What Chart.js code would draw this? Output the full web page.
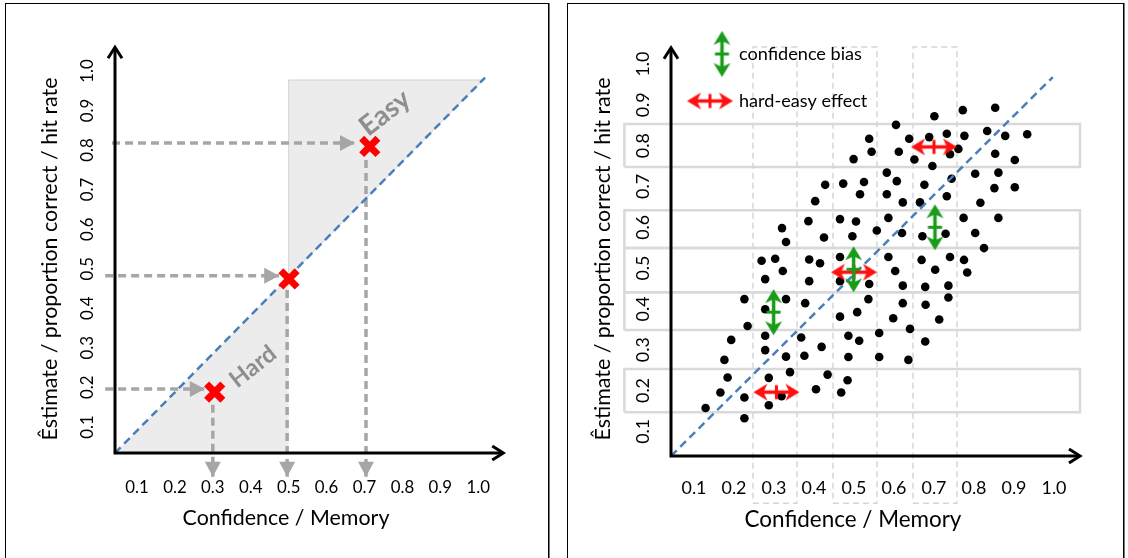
<!DOCTYPE html>
<html>
<head>
<meta charset="utf-8">
<script src="https://cdn.jsdelivr.net/npm/chart.js@4.4.1/dist/chart.umd.min.js"></script>
<style>
  html, body { margin: 0; padding: 0; background: #fff; }
  body { width: 1128px; height: 558px; position: relative; overflow: hidden; }
  .panel { position: absolute; top: 3px; height: 570px; border: 1px solid #000; box-shadow: 1px 0 0 #777; box-sizing: border-box; }
  #p1 { left: 5px; width: 544px; }
  #p2 { left: 567px; width: 557px; }
  canvas { position: absolute; top: 0; }
  #c1 { left: 0; width: 556px; height: 558px; }
  #c2 { left: 560px; width: 568px; height: 558px; }
</style>
</head>
<body>
<div class="panel" id="p1"></div>
<div class="panel" id="p2"></div>
<canvas id="c1" width="556" height="558"></canvas>
<canvas id="c2" width="568" height="558"></canvas>
<script>
const FONT = "Lato, 'Open Sans', 'DejaVu Sans', sans-serif";
const tickValues = [0.1, 0.2, 0.3, 0.4, 0.5, 0.6, 0.7, 0.8, 0.9, 1.0];
const xTitle = 'Confidence / Memory';
const yTitle = 'Êstimate / proportion correct / hit rate';

// ---- left panel (calibration sketch) ----
const leftXRange = [0.042, 0.944];
const leftYRange = [0.034, 1.015];
const leftAxisTips = [1.066, 1.06];
const leftDiagX = [0.042, 1.018];
const leftDiagY = [0.034, 0.983];
const hardAreaX = [0.042, 0.5, 0.5, 0.042];
const hardAreaY = [0.034, 0.48, 0.034, 0.034];
const easyAreaX = [0.5, 0.5, 1.012, 0.5];
const easyAreaY = [0.48, 0.977, 0.977, 0.48];
const exampleConf = [0.305, 0.501, 0.714];
const exampleEst = [0.188, 0.474, 0.809];
// dashed guide arrows
const hGuideY = [0.196, 0.482, 0.818];
const hGuideFrom = [0.016, 0.016, 0.034];
const hGuideTo = [0.279, 0.475, 0.675];
const vGuideX = [0.300, 0.496, 0.704];
const vGuideFrom = [0.156, 0.446, 0.775];
const vGuideTo = -0.026;
const areaLabels = ['Hard', 'Easy'];
const areaLabelX = [0.406, 0.754];
const areaLabelY = [0.252, 0.894];

// ---- right panel (scatter) ----
const rightXRange = [0.0425, 0.9525];
const rightYRange = [0.0395, 1.005];
const rightAxisTips = [1.065, 1.04];
const rightDiagX = [0.0425, 0.997];
const rightDiagY = [0.0395, 0.968];
const dotConf = [0.428,0.403,0.386,0.320,0.425,0.330,0.269,0.303,0.388,0.415,
  0.701,0.772,0.853,0.605,0.538,0.638,0.688,0.732,0.776,0.833,0.878,0.544,0.612,0.740,0.761,
  0.499,0.651,0.853,0.696,0.582,0.803,0.861,0.473,0.525,0.607,0.676,0.744,0.851,0.515,0.582,
  0.622,0.665,0.732,0.816,0.465,0.505,0.586,0.557,0.620,0.671,0.729,0.774,0.861,0.803,0.496,
  0.825,0.465,0.586,0.669,0.740,0.775,0.933,0.902,0.902,
  0.603,0.703,0.783,0.465,0.538,0.622,0.678,0.736,0.536,0.622,0.679,0.736,0.465,0.508,0.598,
  0.713,0.640,0.563,0.486,0.513,0.678,0.486,0.563,0.636,0.484,0.468,
  0.322,0.278,0.388,0.226,0.330,0.278,0.378,0.234,0.278,0.368,0.193,0.419,0.278,0.330,0.376,
  0.176,0.340,0.434,0.184,0.287,0.166,0.226,0.319,0.405,0.129,0.287,0.226];
const dotEst = [0.704,0.664,0.615,0.598,0.575,0.564,0.518,0.523,0.521,0.512,
  0.872,0.887,0.893,0.851,0.817,0.817,0.821,0.829,0.824,0.836,0.824,0.785,0.785,0.779,0.792,
  0.767,0.766,0.780,0.750,0.734,0.731,0.734,0.707,0.711,0.713,0.704,0.719,0.696,0.681,0.681,
  0.661,0.661,0.676,0.660,0.620,0.614,0.623,0.592,0.586,0.578,0.584,0.623,0.623,0.586,0.578,
  0.549,0.527,0.527,0.520,0.527,0.520,0.828,0.765,0.698,
  0.493,0.496,0.489,0.468,0.461,0.457,0.454,0.457,0.424,0.414,0.410,0.428,0.381,0.392,0.377,
  0.374,0.351,0.341,0.334,0.322,0.320,0.282,0.282,0.275,0.225,0.195,
  0.493,0.473,0.468,0.424,0.424,0.399,0.414,0.358,0.334,0.330,0.324,0.307,0.299,0.283,0.285,
  0.275,0.245,0.239,0.232,0.231,0.195,0.183,0.186,0.203,0.157,0.164,0.132];
const rowBoxX = [-0.074, 1.065];
const rowBoxLow = [0.147, 0.348, 0.441, 0.549, 0.748];
const rowBoxHigh = [0.253, 0.441, 0.549, 0.642, 0.853];
const colBoxY = [-0.076, 1.042];
const colBoxLeft = [0.2475, 0.4475, 0.6475];
const colBoxRight = [0.3575, 0.5575, 0.7575];
const biasX = [0.299, 0.499, 0.7025];
const biasY = [0.392, 0.497, 0.600];
const hardEasyX = [0.306, 0.500, 0.700];
const hardEasyY = [0.196, 0.490, 0.797];
const legendLabels = ['confidence bias', 'hard-easy effect'];

const mctx = document.createElement('canvas').getContext('2d');
function fitSize(text, width, weight) {
  mctx.font = (weight || 'normal') + ' 100px ' + FONT;
  return 100 * width / mctx.measureText(text).width;
}
function textWidth(text, size) {
  mctx.font = 'normal ' + size + 'px ' + FONT;
  return mctx.measureText(text).width;
}
const pts = (xs, ys) => xs.map((x, i) => ({ x: x, y: ys[i] }));

function lineDs(data, color, width, dash, extra) {
  return Object.assign({
    type: 'scatter', data: data, showLine: true, borderColor: color, backgroundColor: color,
    borderWidth: width, borderDash: dash || [], pointRadius: 0, pointHoverRadius: 0,
    fill: false, clip: false, tension: 0
  }, extra || {});
}

function arrowIcon(color, vertical) {
  const L = 47, T = 19;
  const c = document.createElement('canvas');
  c.width = vertical ? T : L; c.height = vertical ? L : T;
  const g = c.getContext('2d');
  if (vertical) { g.translate(T, 0); g.rotate(Math.PI / 2); }
  g.fillStyle = color; g.strokeStyle = color; g.lineWidth = 3.5;
  g.beginPath(); g.moveTo(8, T / 2); g.lineTo(L - 8, T / 2); g.stroke();
  const head = (tip, dir) => {
    g.beginPath(); g.moveTo(tip, T / 2); g.lineTo(tip + dir * 14, 1); g.lineTo(tip + dir * 10, T / 2);
    g.lineTo(tip + dir * 14, T - 1); g.closePath(); g.fill();
  };
  head(0.5, 1); head(L - 0.5, -1);
  g.fillRect(L / 2 - 1.5, 2.5, 3, T - 5);
  return c;
}

// the chart area only sets the axis origin here; open the clip so shapes past it still show
const openClip = {
  id: 'openClip',
  afterLayout(chart) {
    Object.assign(chart.chartArea, { left: 0, top: 0, right: chart.width, bottom: chart.height,
      width: chart.width, height: chart.height });
  }
};

function axisPlugin(tips) {
  return {
    id: 'axisArrows',
    afterDatasetsDraw(chart) {
      const { ctx, scales } = chart;
      const ox = scales.y.right, oy = scales.x.top;
      const tx = scales.x.getPixelForValue(tips[0]);
      const ty = scales.y.getPixelForValue(tips[1]);
      ctx.save();
      ctx.strokeStyle = '#000'; ctx.lineWidth = 3; ctx.lineJoin = 'miter';
      ctx.beginPath(); ctx.moveTo(ox, ty + 1); ctx.lineTo(ox, oy); ctx.lineTo(tx - 1, oy); ctx.stroke();
      ctx.beginPath(); ctx.moveTo(tx - 11, oy - 7); ctx.lineTo(tx, oy); ctx.lineTo(tx - 11, oy + 7); ctx.stroke();
      ctx.beginPath(); ctx.moveTo(ox - 7, ty + 11); ctx.lineTo(ox, ty); ctx.lineTo(ox + 7, ty + 11); ctx.stroke();
      ctx.restore();
    }
  };
}

const arrowHeadPlugin = {
  id: 'arrowHeads',
  afterDatasetsDraw(chart) {
    const ctx = chart.ctx;
    chart.data.datasets.forEach((ds, i) => {
      if (!ds.arrowHead) return;
      const el = chart.getDatasetMeta(i).data;
      const p1 = el[el.length - 2], p2 = el[el.length - 1];
      const ang = Math.atan2(p2.y - p1.y, p2.x - p1.x);
      ctx.save();
      ctx.translate(p2.x, p2.y); ctx.rotate(ang);
      ctx.fillStyle = ds.borderColor;
      ctx.beginPath(); ctx.moveTo(0, 0); ctx.lineTo(-15, -8); ctx.lineTo(-15, 8); ctx.closePath(); ctx.fill();
      ctx.restore();
    });
  }
};

function xScale(range, size, pad, height, titleSize) {
  return {
    type: 'linear', position: 'bottom', min: range[0], max: range[1],
    afterBuildTicks: s => { s.ticks = tickValues.map(v => ({ value: v })); },
    afterFit: s => { s.height = height; },
    grid: { display: false, drawTicks: false }, border: { display: false },
    ticks: { autoSkip: false, minRotation: 0, maxRotation: 0, padding: pad, color: '#000',
      font: { family: FONT, size: size }, callback: v => v.toFixed(1) },
    title: { display: true, text: xTitle, color: '#000', padding: 0, font: { family: FONT, size: titleSize } }
  };
}
function yScale(range, size, pad, width, titleSize) {
  return {
    type: 'linear', position: 'left', min: range[0], max: range[1],
    afterBuildTicks: s => { s.ticks = tickValues.map(v => ({ value: v })); },
    afterFit: s => { s.width = width; },
    grid: { display: false, drawTicks: false }, border: { display: false },
    ticks: { autoSkip: false, minRotation: 90, maxRotation: 90, crossAlign: 'center', padding: pad, color: '#000',
      font: { family: FONT, size: size }, callback: v => v.toFixed(1) },
    title: { display: true, text: yTitle, color: '#000', padding: 0, font: { family: FONT, size: titleSize } }
  };
}

function baseOptions(scales, padding) {
  return {
    responsive: false, maintainAspectRatio: false, animation: false, events: [],
    layout: { padding: padding },
    plugins: { legend: { display: false }, tooltip: { enabled: false } },
    scales: scales
  };
}

function draw() {
  const tickL = fitSize('0.1', 23.5), tickR = fitSize('0.1', 25);
  const xtL = fitSize(xTitle, 207), xtR = fitSize(xTitle, 217);
  const ytL = fitSize(yTitle, 363), ytR = fitSize(yTitle, 363);
  const legendSize = fitSize(legendLabels[0], 123);

  // ---------- left chart: origin at (115, 453), x scale to 457, y scale to 65 ----------
  const lOffX = xtL * 0.6, lOffY = ytL * 0.6;
  const leftPad = { left: 50 - lOffY, right: 556 - 457, top: 65, bottom: 558 - 518 - lOffX };
  const leftDatasets = [
    lineDs(pts(exampleConf, exampleEst), '#ff0000', 7, [], {
      showLine: false, pointStyle: 'crossRot', pointRadius: 11.5, pointBorderWidth: 7,
      pointBorderColor: '#ff0000', order: 1 }),
    lineDs(pts(leftDiagX, leftDiagY), '#4a7ebb', 2.5, [8, 5], { order: 3 }),
  ];
  hGuideY.forEach((y, i) => leftDatasets.push(
    lineDs(pts([hGuideFrom[i], hGuideTo[i]], [y, y]), '#a6a6a6', 3.5, [8, 5], { arrowHead: true, order: 5 })));
  vGuideX.forEach((x, i) => leftDatasets.push(
    lineDs(pts([x, x], [vGuideFrom[i], vGuideTo]), '#a6a6a6', 3.5, [8, 5], { arrowHead: true, order: 5 })));
  leftDatasets.push(lineDs(pts(hardAreaX, hardAreaY), 'rgba(0,0,0,0)', 0, [], { fill: 'shape', backgroundColor: '#ececec', order: 10 }));
  leftDatasets.push(lineDs(pts(easyAreaX, easyAreaY), '#d4d4d4', 1, [], { fill: 'shape', backgroundColor: '#ececec', order: 10 }));

  const labelSizes = [fitSize('Hard', 52, 'bold'), fitSize('Easy', 56, 'bold')];
  const areaTextPlugin = {
    id: 'areaText',
    afterDatasetsDraw(chart) {
      const { ctx, scales } = chart;
      areaLabels.forEach((t, i) => {
        ctx.save();
        ctx.translate(scales.x.getPixelForValue(areaLabelX[i]), scales.y.getPixelForValue(areaLabelY[i]));
        ctx.rotate(-38 * Math.PI / 180);
        ctx.font = 'bold ' + labelSizes[i] + 'px ' + FONT;
        ctx.fillStyle = '#8e8e8e'; ctx.textAlign = 'center'; ctx.textBaseline = 'middle';
        ctx.fillText(t, 0, 0);
        ctx.restore();
      });
    }
  };

  new Chart(document.getElementById('c1'), {
    type: 'scatter',
    data: { datasets: leftDatasets },
    options: baseOptions({
      x: xScale(leftXRange, tickL, 35 - tickL * 0.6, 558 - leftPad.bottom - 453, xtL),
      y: yScale(leftYRange, tickL, 27 - textWidth('0.1', tickL) / 2, 115 - leftPad.left, ytL)
    }, leftPad),
    plugins: [openClip, arrowHeadPlugin, areaTextPlugin, axisPlugin(leftAxisTips)]
  });

  // ---------- right chart: origin at (111, 456) in canvas, x scale to 475, y scale to 62 ----------
  const biasIcon = arrowIcon('#1a9b1a', true);
  const hardEasyIcon = arrowIcon('#ff1010', false);
  const rOffX = xtR * 0.6, rOffY = ytR * 0.6;
  const rightPad = { left: 43 - rOffY, right: 568 - 475, top: 62, bottom: 558 - 520 - rOffX };
  const rightDatasets = [
    lineDs(pts(biasX, biasY), '#1a9b1a', 0, [], { showLine: false, pointStyle: biasIcon, pointRadius: 10, order: 1 }),
    lineDs(pts(hardEasyX, hardEasyY), '#ff1010', 0, [], { showLine: false, pointStyle: hardEasyIcon, pointRadius: 10, order: 1 }),
    lineDs(pts(rightDiagX, rightDiagY), '#4a7ebb', 2.5, [8, 5], { order: 3 }),
    lineDs(pts(dotConf, dotEst), '#000', 0, [], { showLine: false, pointRadius: 4.3, pointBackgroundColor: '#000', pointBorderWidth: 0, order: 6 })
  ];
  rowBoxLow.forEach((lo, i) => rightDatasets.push(lineDs(
    pts([rowBoxX[0], rowBoxX[1], rowBoxX[1], rowBoxX[0], rowBoxX[0]], [lo, lo, rowBoxHigh[i], rowBoxHigh[i], lo]),
    '#d9d9d9', 2.5, [], { order: 12 })));
  colBoxLeft.forEach((l, i) => rightDatasets.push(lineDs(
    pts([l, colBoxRight[i], colBoxRight[i], l, l], [colBoxY[0], colBoxY[0], colBoxY[1], colBoxY[1], colBoxY[0]]),
    '#d6d6d6', 1.5, [6, 4], { order: 11 })));

  const legendIcons = [biasIcon, hardEasyIcon];
  const legendIconX = [162, 150], legendRowY = [54, 101], legendTextX = 179;
  const legendPlugin = {
    id: 'arrowLegend',
    afterDraw(chart) {
      const ctx = chart.ctx;
      ctx.save();
      ctx.font = legendSize + 'px ' + FONT; ctx.fillStyle = '#000'; ctx.textBaseline = 'middle';
      legendLabels.forEach((t, i) => {
        const ic = legendIcons[i];
        ctx.drawImage(ic, legendIconX[i] - ic.width / 2, legendRowY[i] - ic.height / 2);
        ctx.fillText(t, legendTextX, legendRowY[i]);
      });
      ctx.restore();
    }
  };

  new Chart(document.getElementById('c2'), {
    type: 'scatter',
    data: { datasets: rightDatasets },
    options: baseOptions({
      x: xScale(rightXRange, tickR, 32.5 - tickR * 0.6, 558 - rightPad.bottom - 456, xtR),
      y: yScale(rightYRange, tickR, 28 - textWidth('0.1', tickR) / 2, 111 - rightPad.left, ytR)
    }, rightPad),
    plugins: [openClip, legendPlugin, axisPlugin(rightAxisTips)]
  });
}

Promise.all([document.fonts.load('20px Lato'), document.fonts.load('bold 20px Lato')])
  .catch(() => {}).then(draw);
</script>
</body>
</html>
